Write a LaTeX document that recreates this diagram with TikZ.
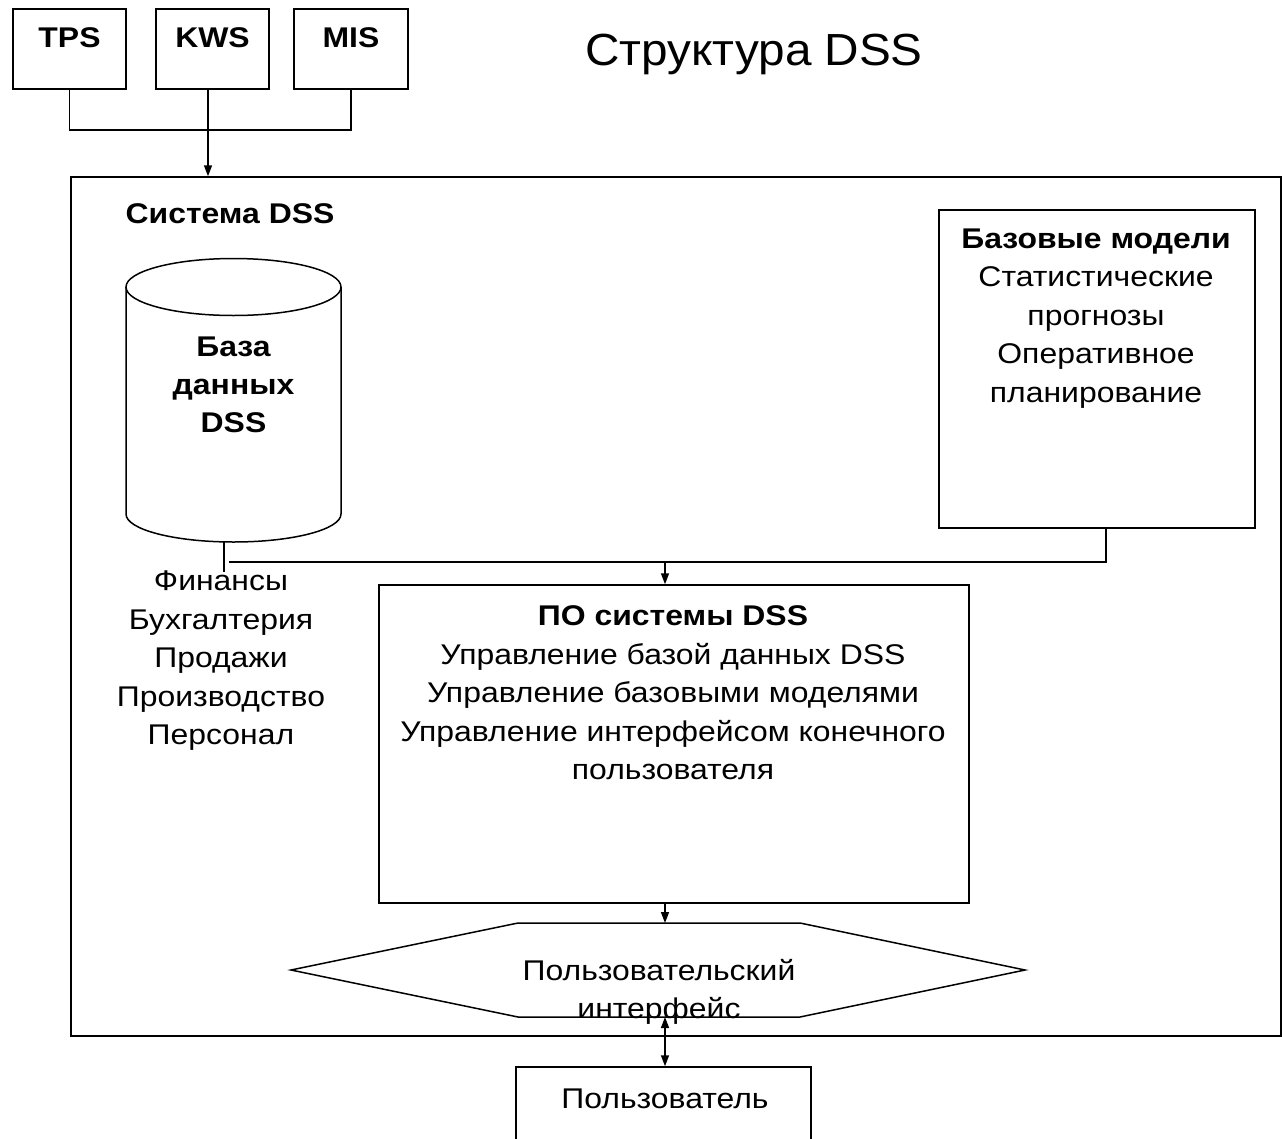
\documentclass[tikz,border=0pt]{standalone}
\usepackage{fontspec}
\setmainfont{Liberation Sans}[FakeStretch=1.12]
\newfontfamily\titlefont{Liberation Sans}[FakeStretch=1.06]
\usetikzlibrary{arrows.meta}
\begin{document}
\begin{tikzpicture}[x=1pt,y=1pt,
  line width=1.5pt,
  box/.style={draw, line width=1.5pt, inner sep=0pt},
  arr/.style={-{Triangle[length=11pt,width=8pt]}},
  darr/.style={{Triangle[length=11pt,width=8pt]}-{Triangle[length=11pt,width=8pt]}},
  reg/.style={font=\fontsize{28.5}{38.5}\selectfont, align=center, inner sep=0pt},
  bld/.style={font=\fontsize{28.5}{38}\selectfont\bfseries, align=center, inner sep=0pt},
  hdr/.style={font=\fontsize{28.5}{35}\selectfont\bfseries, inner sep=0pt, anchor=base},
]
\useasboundingbox (0,0) rectangle (1282,-1138);
\fill[white] (0,0) rectangle (1282,-1138);

% source systems
\node[box, minimum width=113, minimum height=80] (tps) at (69.5,-49) {};
\node[box, minimum width=113, minimum height=80] (kws) at (212.5,-49) {};
\node[box, minimum width=114, minimum height=80] (mis) at (351,-49) {};
\node[hdr] (tpst) at (69.5,-47) {TPS};
\node[hdr] (kwst) at (212.5,-47) {KWS};
\node[hdr] (mist) at (351,-47) {MIS};

% title
\node[font=\fontsize{45}{54}\selectfont\titlefont, anchor=base, inner sep=0pt] (title) at (754,-65) {Структура DSS};

% outer system box
\node[box, minimum width=1210, minimum height=859] (sys) at (676,-606.5) {};
\node[hdr] (syst) at (230,-223) {Система DSS};

\coordinate (jn) at (208,-130);
\draw (tps.south) |- (jn) -| (mis.south);
\draw[arr] ([xshift=-4.5pt]kws.south) -- (jn |- sys.north);

% database cylinder
\draw (126,-287) -- (126,-514) arc[start angle=180, end angle=360, x radius=107.5, y radius=28] -- (341,-287);
\draw (233.5,-287) ellipse[x radius=107.5, y radius=28.5];
\node[bld] (dbt) at (233.5,-385) {База\\данных\\DSS};
\coordinate (cylb) at (224,-541.5);
\coordinate (cyle) at (224,-572);
\draw (cylb) -- (cyle);
\node[reg] (fin) at (221,-661) {Финансы\\Бухгалтерия\\Продажи\\Производство\\Персонал};

% models
\node[box, minimum width=316, minimum height=318] (mod) at (1097,-369) {};
\node[reg] (modt) at (1096,-318.5) {\textbf{Базовые модели}\\Статистические\\прогнозы\\Оперативное\\планирование};

% software
\node[box, minimum width=590, minimum height=318] (po) at (674,-744) {};
\node[reg] (pot) at (673,-693) {\textbf{ПО системы DSS}\\Управление базой данных DSS\\Управление базовыми моделями\\Управление интерфейсом конечного\\пользователя};

\coordinate (hl) at (229,-562);
\coordinate (hr) at (1106,-562);
\coordinate (pin) at (665,-562);
\draw (hl) -- (hr) -- (hr |- mod.south);
\draw[arr] (pin) -- (pin |- po.north);

% user interface
\draw (291,-970) -- (518,-923) -- (800,-923) -- (1025,-970) -- (800,-1017) -- (518,-1017) -- cycle;
\coordinate (hexT) at (665,-923);
\coordinate (hexB) at (665,-1017);
\draw[arr] (pin |- po.south) -- (hexT);
\node[reg] (uit) at (659,-992) {Пользовательский\\интерфейс};

% user
\node[box, minimum width=295, minimum height=80] (usr) at (663.5,-1107) {};
\draw[darr] (hexB) -- (hexB |- usr.north);
\node[reg, anchor=base] (usrt) at (665,-1108) {Пользователь};
\end{tikzpicture}
\end{document}
